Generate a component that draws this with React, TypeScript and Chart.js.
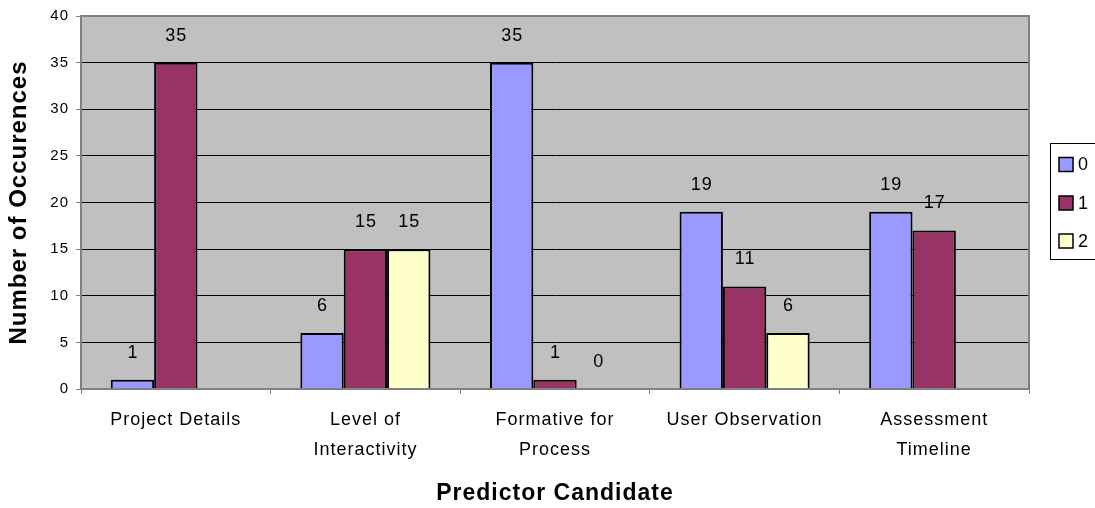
import React, { useEffect, useRef } from "react";
import { Chart, registerables } from "chart.js";

Chart.register(...registerables);

const categories: (string | string[])[] = [
  "Project Details",
  ["Level of", "Interactivity"],
  ["Formative for", "Process"],
  "User Observation",
  ["Assessment", "Timeline"],
];
const seriesNames = ["0", "1", "2"];
const series0 = [1, 6, 35, 19, 19];
const series1 = [35, 15, 1, 11, 17];
const series2: (number | null)[] = [null, 15, 0, 6, null];
const seriesColors = ["#9999FF", "#993366", "#FFFFCC"];
const yTicksMax = 40;
const yTicksStep = 5;

const FONT = '"Liberation Sans", Arial, sans-serif';

const plotBg = {
  id: "plotBg",
  beforeDraw(chart: any) {
    const { ctx, chartArea } = chart;
    (ctx as any).letterSpacing = "1px";
    ctx.save();
    ctx.fillStyle = "#C0C0C0";
    ctx.fillRect(chartArea.left, chartArea.top, chartArea.right - chartArea.left, chartArea.bottom - chartArea.top);
    ctx.restore();
  },
};

const frameAndLabels = {
  id: "frameAndLabels",
  afterDatasetsDraw(chart: any) {
    const { ctx, chartArea } = chart;
    ctx.save();
    ctx.strokeStyle = "#808080";
    ctx.lineWidth = 2;
    ctx.strokeRect(chartArea.left, chartArea.top, chartArea.right - chartArea.left, chartArea.bottom - chartArea.top);
    ctx.font = `18px ${FONT}`;
    ctx.fillStyle = "#000";
    ctx.textAlign = "center";
    ctx.textBaseline = "middle";
    chart.data.datasets.forEach((ds: any, i: number) => {
      const meta = chart.getDatasetMeta(i);
      meta.data.forEach((el: any, j: number) => {
        const v = ds.data[j];
        if (v === null || v === undefined) return;
        ctx.fillText(String(v), el.x + 0.5, el.y - 27);
      });
    });
    ctx.restore();
  },
  afterDraw(chart: any) {
    const { ctx } = chart;
    ctx.save();
    ctx.strokeStyle = "#000";
    ctx.lineWidth = 1;
    ctx.strokeRect(1050.5, 143.5, 80, 116);
    ctx.font = `18px ${FONT}`;
    ctx.textAlign = "left";
    ctx.textBaseline = "middle";
    const ys = [164.5, 203, 241];
    chart.data.datasets.forEach((ds: any, i: number) => {
      const cy = ys[i];
      ctx.fillStyle = ds.backgroundColor;
      ctx.fillRect(1059, cy - 7, 14, 14);
      ctx.lineWidth = 1.5;
      ctx.strokeStyle = "#000";
      ctx.strokeRect(1059, cy - 7, 14, 14);
      ctx.fillStyle = "#000";
      ctx.fillText(ds.label, 1078, cy + 1);
    });
    ctx.restore();
  },
};

export default function App() {
  const ref = useRef<HTMLCanvasElement>(null);
  useEffect(() => {
    if (!ref.current) return;
    const data = [series0, series1, series2];
    const chart = new Chart(ref.current, {
      type: "bar",
      data: {
        labels: categories,
        datasets: data.map((d, i) => ({
          label: seriesNames[i],
          data: d,
          backgroundColor: seriesColors[i],
          borderColor: "#000",
          borderWidth: 2,
          categoryPercentage: 0.686,
          barPercentage: 1.0,
        })),
      },
      options: {
        responsive: false,
        animation: false,
        layout: { padding: { top: 14, right: 66, left: 0, bottom: 0 } },
        plugins: {
          legend: { display: false },
          tooltip: { enabled: false },
          title: { display: false },
        },
        scales: {
          x: {
            grid: {
              display: true,
              drawOnChartArea: false,
              drawTicks: true,
              tickLength: 5,
              tickColor: "#808080",
              offset: true,
            },
            border: { display: true, color: "#808080", width: 2 },
            ticks: {
              color: "#000",
              font: { family: FONT, size: 18, lineHeight: 1.65 },
              padding: 11,
              maxRotation: 0,
              autoSkip: false,
            },
            title: {
              display: true,
              text: "Predictor Candidate",
              color: "#000",
              font: { family: FONT, size: 23, weight: "bold" },
              padding: { top: 0, bottom: 1 },
            },
            afterFit: (s: any) => {
              s.height = 119;
            },
          },
          y: {
            min: 0,
            max: yTicksMax,
            grid: {
              color: "#000",
              lineWidth: 1,
              tickLength: 5,
              tickColor: "#808080",
            },
            border: { display: true, color: "#808080", width: 2 },
            ticks: {
              stepSize: yTicksStep,
              color: "#000",
              font: { family: FONT, size: 15 },
              padding: 7,
            },
            title: {
              display: true,
              text: "Number of Occurences",
              color: "#000",
              font: { family: FONT, size: 24, weight: "bold" },
              padding: { top: 5, bottom: 0 },
            },
            afterFit: (s: any) => {
              s.width = 81;
            },
          },
        },
      },
      plugins: [plotBg, frameAndLabels],
    } as any);
    return () => chart.destroy();
  }, []);
  return (
    <div style={{ position: "fixed", left: 0, top: 0, width: 1095, height: 508, background: "#fff" }}>
      <canvas ref={ref} width={1095} height={508} style={{ display: "block" }} />
    </div>
  );
}
